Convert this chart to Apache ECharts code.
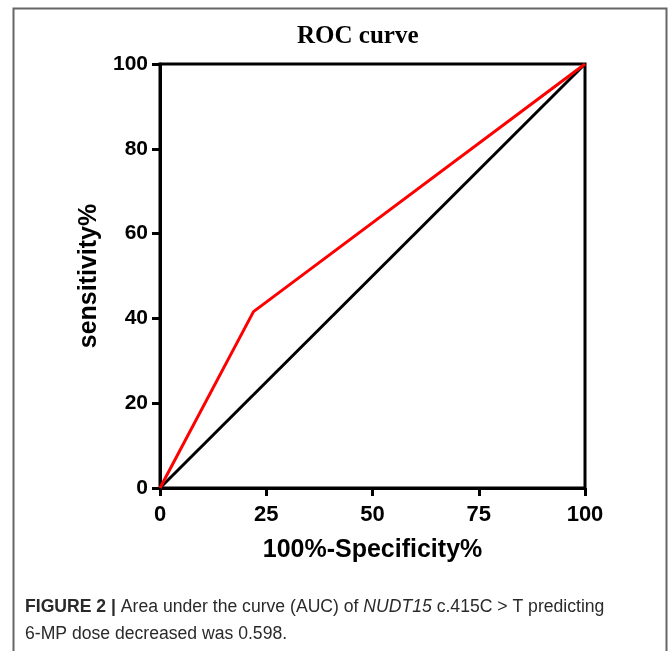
<!DOCTYPE html>
<html>
<head>
<meta charset="utf-8">
<title>ROC curve</title>
<script src="https://cdn.jsdelivr.net/npm/echarts@6/dist/echarts.min.js"></script>
<style>
    html, body { margin: 0; padding: 0; background: #fff; }
    #rocGraph { width: 669px; height: 651px; }
</style>
</head>
<body>
<div id="rocGraph"></div>
<script>
// ROC points (x = 100%-Specificity%, y = sensitivity%)
var rocX = [0, 22, 100];
var rocY = [0, 41.6, 100];
// reference diagonal
var refX = [0, 100];
var refY = [0, 100];
var xTicks = [0, 25, 50, 75, 100];
var yTicks = [0, 20, 40, 60, 80, 100];

function toPairs(xs, ys) {
    var out = [];
    for (var i = 0; i < xs.length; i++) {
        out.push([xs[i], ys[i]]);
    }
    return out;
}

var myChart = echarts.init(document.getElementById('rocGraph'));
var option = {
    animation: false,
    title: {
        text: 'ROC curve',
        left: 292,
        top: 19,
        textStyle: {
            fontFamily: 'Liberation Serif',
            fontWeight: 'bold',
            fontSize: 25,
            color: '#000'
        }
    },
    grid: {
        left: 160,
        right: 84,
        top: 64,
        bottom: 163,
        show: true,
        borderColor: '#000',
        borderWidth: 3
    },
    xAxis: {
        type: 'value',
        min: 0,
        max: 100,
        interval: 25,
        name: '100%-Specificity%',
        nameLocation: 'middle',
        nameGap: 50,
        nameTextStyle: {
            fontFamily: 'Liberation Sans',
            fontWeight: 'bold',
            fontSize: 25,
            color: '#000'
        },
        axisLine: { lineStyle: { color: '#000', width: 3 } },
        axisTick: { show: true, length: 8, lineStyle: { color: '#000', width: 3 } },
        axisLabel: {
            margin: 16,
            fontFamily: 'Liberation Sans',
            fontWeight: 'bold',
            fontSize: 22,
            color: '#000',
            formatter: function(v) { return xTicks.indexOf(v) >= 0 ? String(v) : ''; }
        },
        splitLine: { show: false }
    },
    yAxis: {
        type: 'value',
        min: 0,
        max: 100,
        interval: 20,
        name: 'sensitivity%',
        nameLocation: 'middle',
        nameGap: 56,
        nameTextStyle: {
            fontFamily: 'Liberation Sans',
            fontWeight: 'bold',
            fontSize: 25,
            color: '#000'
        },
        axisLine: { show: true, lineStyle: { color: '#000', width: 3 } },
        axisTick: { show: true, length: 8, lineStyle: { color: '#000', width: 3 } },
        axisLabel: {
            margin: 12,
            fontFamily: 'Liberation Sans',
            fontWeight: 'bold',
            fontSize: 21,
            color: '#000',
            formatter: function(v) { return yTicks.indexOf(v) >= 0 ? String(v) : ''; }
        },
        splitLine: { show: false }
    },
    series: [{
        name: 'reference',
        type: 'line',
        data: toPairs(refX, refY),
        showSymbol: false,
        lineStyle: { color: '#000', width: 3 },
        z: 2
    }, {
        name: 'ROC',
        type: 'line',
        data: toPairs(rocX, rocY),
        showSymbol: false,
        lineStyle: { color: '#f00', width: 3 },
        z: 3
    }],
    graphic: [{
        type: 'rect',
        shape: { x: 13.5, y: 8.5, width: 653, height: 700 },
        style: { fill: 'none', stroke: '#666', lineWidth: 2 },
        silent: true
    }, {
        type: 'text',
        left: 25,
        top: 594,
        style: {
            text: '{b|FIGURE 2 |} Area under the curve (AUC) of {i|NUDT15} c.415C > T predicting\n6-MP dose decreased was 0.598.',
            fontFamily: 'Liberation Sans',
            fontSize: 17.6,
            lineHeight: 27,
            fill: '#2a2a2a',
            rich: {
                b: { fontFamily: 'Liberation Sans', fontWeight: 'bold', fontSize: 17.6, lineHeight: 27, fill: '#2a2a2a' },
                i: { fontFamily: 'Liberation Sans', fontStyle: 'italic', fontSize: 17.6, lineHeight: 27, fill: '#2a2a2a' }
            }
        }
    }]
};
myChart.setOption(option);
</script>
</body>
</html>
